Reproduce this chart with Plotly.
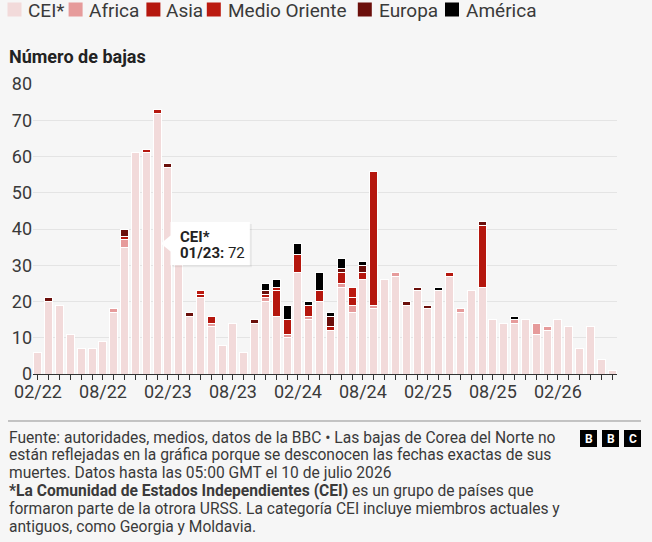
import plotly.graph_objects as go

months = ["02/22","03/22","04/22","05/22","06/22","07/22","08/22","09/22","10/22","11/22","12/22",
          "01/23","02/23","03/23","04/23","05/23","06/23","07/23","08/23","09/23","10/23","11/23","12/23",
          "01/24","02/24","03/24","04/24","05/24","06/24","07/24","08/24","09/24","10/24","11/24","12/24",
          "01/25","02/25","03/25","04/25","05/25","06/25","07/25","08/25","09/25","10/25","11/25","12/25",
          "01/26","02/26","03/26","04/26","05/26","06/26","07/26"]
tick_labels = ["02/22","08/22","02/23","08/23","02/24","08/24","02/25","08/25","02/26"]

cei = [6,20,19,11,7,7,9,17,35,61,61,72,57,31,16,21,13,8,14,6,14,20,16,10,28,15,20,12,24,17,26,18,26,27,19,
       23,18,23,27,17,23,24,15,14,14,15,11,12,15,13,7,13,4,1]
africa = [0,0,0,0,0,0,0,1,2,0,0,0,0,0,0,0,1,0,0,0,0,1,0,1,0,1,0,0,1,2,0,1,0,1,0,
          0,0,0,0,1,0,0,0,0,1,0,3,1,0,0,0,0,0,0]
asia = [0,0,0,0,0,0,0,0,1,0,1,1,0,0,0,1,2,0,0,0,0,1,7,4,5,3,3,1,3,2,2,37,0,0,0,
        0,0,0,1,0,0,17,0,0,0,0,0,0,0,0,0,0,0,0]
medio_oriente = [0,0,0,0,0,0,0,0,0,0,0,0,0,0,0,1,0,0,0,0,0,0,1,0,0,0,0,0,0,3,0,0,0,0,0,
                 0,0,0,0,0,0,0,0,0,0,0,0,0,0,0,0,0,0,0]
europa = [0,1,0,0,0,0,0,0,2,0,0,0,1,0,1,0,0,0,0,0,1,1,0,0,0,0,0,3,1,0,2,0,0,0,1,
          1,1,0,0,0,0,1,0,0,0,0,0,0,0,0,0,0,0,0]
america = [0,0,0,0,0,0,0,0,0,0,0,0,0,0,0,0,0,0,0,0,0,2,2,4,3,1,5,1,3,0,1,0,0,0,0,
           0,0,1,0,0,0,0,0,0,1,0,0,0,0,0,0,0,0,0]

series_names = ["CEI*", "Africa", "Asia", "Medio Oriente", "Europa", "América"]
series_values = [cei, africa, asia, medio_oriente, europa, america]
series_colors = ["#f2dada", "#e69b9b", "#b5170e", "#bb1a10", "#6b0f0b", "#000000"]

FONT = "Roboto"
TXT = "#3a3a3a"
BG = "#f6f6f6"

# plot area in pixels
W, H = 652, 542
PL, PR, PT, PB = 33, 617, 84, 374

def px(xp):
    return (xp - PL) / (PR - PL)

def py(yp):
    return (PB - yp) / (PB - PT)

x = list(range(len(months)))

fig = go.Figure()
for name, vals, col in zip(series_names, series_values, series_colors):
    fig.add_trace(go.Bar(
        x=x, y=vals, name=name,
        marker=dict(color=col, line=dict(color="#ffffff", width=1)),
        showlegend=False,
    ))

shapes = []
annotations = []

# manual legend
legend_items = [(7.5, 25.8), (68.6, 87.4), (146.4, 163.5), (206.8, 225.5), (357.8, 376.5), (445.0, 463.8)]
for (sx, tx), name, col in zip(legend_items, series_names, series_colors):
    shapes.append(dict(type="rect", xref="paper", yref="paper",
                       x0=px(sx), x1=px(sx + 14), y0=py(16.5), y1=py(2.5),
                       fillcolor=col, line=dict(width=0), layer="above"))
    annotations.append(dict(xref="paper", yref="paper", x=px(tx), y=py(10.5),
                            xanchor="left", yanchor="middle", showarrow=False,
                            text=name, font=dict(family=FONT, size=19, color=TXT)))

# title
annotations.append(dict(xref="paper", yref="paper", x=px(7), y=py(57),
                        xanchor="left", yanchor="middle", showarrow=False,
                        text="<b>Número de bajas</b>", font=dict(family=FONT, size=18, color="#222222")))

# tooltip (hover label for 01/23)
tip_x, tip_y = 11, 36
shapes.append(dict(type="path", xref="x", yref="y", xsizemode="pixel", ysizemode="pixel",
                   xanchor=tip_x, yanchor=tip_y,
                   path="M 15.4,-23.7 L 94.7,-23.7 L 94.7,19.6 L 15.4,19.6 Z",
                   fillcolor="rgba(0,0,0,0.06)", line=dict(width=0), layer="above"))
shapes.append(dict(type="path", xref="x", yref="y", xsizemode="pixel", ysizemode="pixel",
                   xanchor=tip_x, yanchor=tip_y,
                   path="M 3.7,0 L 13.4,-8 L 13.4,-21.7 L 92.7,-21.7 L 92.7,21.6 L 13.4,21.6 L 13.4,8 Z",
                   fillcolor="#ffffff", line=dict(width=0), layer="above"))
annotations.append(dict(xref="x", yref="y", x=tip_x, y=tip_y, xshift=20.5, yshift=7,
                        xanchor="left", yanchor="middle", showarrow=False,
                        text="<b>CEI*</b>", font=dict(family=FONT, size=15, color="#222222")))
annotations.append(dict(xref="x", yref="y", x=tip_x, y=tip_y, xshift=20.5, yshift=-9.5,
                        xanchor="left", yanchor="middle", showarrow=False,
                        text="<b>01/23:</b> %d" % cei[11], font=dict(family=FONT, size=15, color="#222222")))

# footer separator
shapes.append(dict(type="line", xref="paper", yref="paper", x0=px(8), x1=px(641),
                   y0=py(421), y1=py(421), line=dict(color="#8f8f8f", width=1)))

footer_lines = [
    "Fuente: autoridades, medios, datos de la BBC • Las bajas de Corea del Norte no",
    "están reflejadas en la gráfica porque se desconocen las fechas exactas de sus",
    "muertes. Datos hasta las 05:00 GMT el 10 de julio 2026",
    "<b>*La Comunidad de Estados Independientes (CEI)</b> es un grupo de países que",
    "formaron parte de la otrora URSS. La categoría CEI incluye miembros actuales y",
    "antiguos, como Georgia y Moldavia.",
]
footer_y = [437.5, 455.3, 473.1, 490.9, 508.7, 526.5]
for t, yy in zip(footer_lines, footer_y):
    annotations.append(dict(xref="paper", yref="paper", x=px(7), y=py(yy),
                            xanchor="left", yanchor="middle", showarrow=False,
                            text=t, font=dict(family=FONT, size=15.6, color=TXT)))

# BBC logo
for i, letter in enumerate(["B", "B", "C"]):
    x0 = 580 + 22 * i
    shapes.append(dict(type="rect", xref="paper", yref="paper",
                       x0=px(x0), x1=px(x0 + 17), y0=py(447), y1=py(430),
                       fillcolor="#000000", line=dict(width=0)))
    annotations.append(dict(xref="paper", yref="paper", x=px(x0 + 8.5), y=py(438.5),
                            xanchor="center", yanchor="middle", showarrow=False,
                            text="<b>%s</b>" % letter, font=dict(family=FONT, size=12, color="#ffffff")))

fig.update_layout(
    width=W, height=H,
    barmode="stack", bargap=0.26,
    paper_bgcolor=BG, plot_bgcolor=BG,
    margin=dict(l=PL, r=W - PR, t=PT, b=H - PB, pad=0),
    font=dict(family=FONT, size=18, color=TXT),
    xaxis=dict(
        range=[-0.46, 53.46],
        tickmode="array", tickvals=x,
        ticktext=[m if m in tick_labels else "" for m in months],
        ticks="outside", ticklen=5, tickwidth=1, tickcolor="#333333",
        showline=True, linecolor="#333333", linewidth=1,
        showgrid=False, zeroline=False,
        ticklabelstandoff=-4,
        tickfont=dict(family=FONT, size=18, color=TXT),
        fixedrange=True,
    ),
    yaxis=dict(
        range=[0, 80], tickvals=[0, 10, 20, 30, 40, 50, 60, 70, 80],
        showgrid=True, gridcolor="#e4e4e4", gridwidth=1,
        zeroline=False, showline=False, ticks="",
        tickfont=dict(family=FONT, size=18, color=TXT),
        fixedrange=True,
    ),
    shapes=shapes,
    annotations=annotations,
    hovermode=False,
)

fig.write_html("out.html")
